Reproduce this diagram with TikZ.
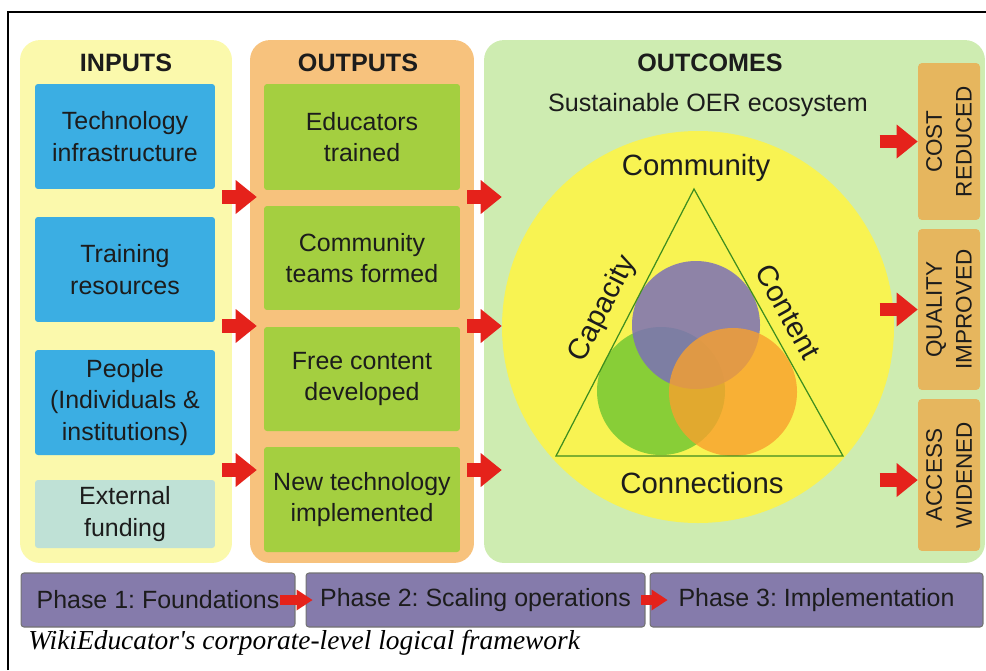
\documentclass[tikz,border=0pt]{standalone}
\usepackage{fontspec}
\setmainfont{Liberation Sans}
\newfontfamily\capfont{Liberation Serif}
\usetikzlibrary{arrows.meta}
\frenchspacing

\definecolor{inbg}{HTML}{FBF9AC}
\definecolor{outbg}{HTML}{F7C27D}
\definecolor{ocbg}{HTML}{CEECB1}
\definecolor{inblue}{HTML}{3BAEE3}
\definecolor{infund}{HTML}{BFE1D6}
\definecolor{outgreen}{HTML}{A4CF40}
\definecolor{restan}{HTML}{E6B65E}
\definecolor{ecoyellow}{HTML}{F8F352}
\definecolor{trigreen}{HTML}{3E8D1F}
\definecolor{cpurple}{HTML}{7C70B6}
\definecolor{cgreen}{HTML}{7CCB35}
\definecolor{corange}{HTML}{F8A02E}
\definecolor{phasebg}{HTML}{857BAB}
\definecolor{arrred}{HTML}{E5221B}
\definecolor{txt}{HTML}{1C1C1C}

\begin{document}
\begin{tikzpicture}[x=0.02cm, y=-0.02cm,
    panel/.style={rounded corners=0.4cm, minimum height=10.46cm},
    title/.style={text=txt, font=\fontsize{14.3}{17}\selectfont\bfseries},
    box/.style={rounded corners=0.06cm, align=center, text=txt, font=\fontsize{14.2}{18}\selectfont},
    res/.style={fill=restan, rounded corners=0.08cm, rotate=90, minimum height=1.24cm, align=center, text=txt, font=\fontsize{12.8}{17}\selectfont},
    phase/.style={fill=phasebg, draw=black!55, line width=0.6pt, rounded corners=0.06cm, minimum height=1.08cm, text=txt, font=\fontsize{14.2}{17}\selectfont},
    eco/.style={text=txt, inner sep=1pt, font=\fontsize{16.7}{20}\selectfont},
    bigarrow/.style={draw=arrred, line width=0.27cm, -{Triangle[length=0.42cm, width=0.68cm, line width=0pt]}},
    smallarrow/.style={draw=arrred, line width=0.2cm, -{Triangle[length=0.32cm, width=0.42cm, line width=0pt]}}]
    \useasboundingbox (0,0) rectangle (986,670);

    % Three big panels
    \node[panel, fill=inbg, minimum width=4.24cm] (inputs) at (126,301.5) {};
    \node[panel, fill=outbg, minimum width=4.48cm] (outputs) at (362,301.5) {};
    \node[panel, fill=ocbg, minimum width=10.02cm] (outcomes) at (734.5,301.5) {};
    \node[title] (intitle) at (126,63) {INPUTS};
    \node[title] (outtitle) at (358,63) {OUTPUTS};
    \node[title] (octitle) at (710,63) {OUTCOMES};

    % Inputs
    \node[box, fill=inblue, minimum width=3.6cm, minimum height=2.1cm] (tech) at (125,136.5) {Technology\\infrastructure};
    \node[box, fill=inblue, minimum width=3.6cm, minimum height=2.1cm] (train) at (125,269.5) {Training\\resources};
    \node[box, fill=inblue, minimum width=3.6cm, minimum height=2.1cm] (people) at (125,402.5) {People\\(Individuals \&\\institutions)};
    \node[box, fill=infund, minimum width=3.6cm, minimum height=1.36cm] (fund) at (125,514) {External\\funding};

    % Outputs
    \node[box, fill=outgreen, minimum width=3.92cm, minimum height=2.12cm] (educ) at (362,137) {Educators\\trained};
    \node[box, fill=outgreen, minimum width=3.92cm, minimum height=2.08cm] (teams) at (362,258) {Community\\teams formed};
    \node[box, fill=outgreen, minimum width=3.92cm, minimum height=2.08cm] (content) at (362,379) {Free content\\developed};
    \node[box, fill=outgreen, minimum width=3.92cm, minimum height=2.1cm] (newtech) at (362,499.5) {New technology\\implemented};

    % Outcomes: the ecosystem
    \node[text=txt, font=\fontsize{14.3}{17}\selectfont] (oer) at (708,105) {Sustainable OER ecosystem};
    \fill[ecoyellow] (698,327) circle (196);
    \fill[cgreen, fill opacity=0.9] (661,391) circle (64);
    \fill[cpurple, fill opacity=0.85] (696,325) circle (64);
    \fill[corange, fill opacity=0.8] (733,392) circle (64);
    \coordinate (apex) at (694,189);
    \coordinate (bl) at (556,456);
    \coordinate (br) at (843,456);
    \draw[trigreen, line width=0.7pt] (apex) -- (bl) -- (br) -- cycle;
    \node[eco] (community) at (696,168) {Community};
    \node[eco] (connections) at (702,483) {Connections};
    \node[eco, rotate=63] (capacity) at (603,309) {Capacity};
    \node[eco, rotate=-61] (contentlbl) at (788,312) {Content};

    % Results
    \node[res, minimum width=3.14cm] (cost) at (949,141.5) {COST\\REDUCED};
    \node[res, minimum width=3.22cm] (quality) at (949,309.5) {QUALITY\\IMPROVED};
    \node[res, minimum width=3.04cm] (access) at (949,475) {ACCESS\\WIDENED};

    % Red arrows between the panels
    \foreach \y [count=\i] in {197,326,470} {
        \coordinate (io\i) at (222,\y);
        \draw[bigarrow] (io\i) -- ([xshift=0.14cm]io\i -| outputs.west);
        \coordinate (oo\i) at (467,\y);
        \draw[bigarrow] (oo\i) -- ([xshift=0.36cm]oo\i -| outcomes.west);
    }
    \draw[bigarrow] ([xshift=-0.76cm]cost.north) -- (cost.north);
    \draw[bigarrow] ([xshift=-0.76cm]quality.north) -- (quality.north);
    \draw[bigarrow] ([xshift=-0.76cm,yshift=-0.1cm]access.north) -- ([yshift=-0.1cm]access.north);

    % Phases
    \node[phase, minimum width=5.48cm] (ph1) at (158,600) {Phase 1: Foundations};
    \node[phase, minimum width=6.78cm] (ph2) at (475.5,600) {Phase 2: Scaling operations};
    \node[phase, minimum width=6.66cm] (ph3) at (816.5,600) {Phase 3: Implementation};
    \coordinate (pa1) at (280,600);
    \coordinate (pa2) at (641,600);
    \draw[smallarrow] (pa1) -- ([xshift=0.14cm]pa1 -| ph2.west);
    \draw[smallarrow] (pa2) -- ([xshift=0.36cm]pa2 -| ph3.west);

    % Caption and frame
    \node[anchor=base west, inner sep=0pt, text=black, font=\capfont\itshape\fontsize{15.6}{18}\selectfont] (caption) at (28,649) {WikiEducator's corporate-level logical framework};
    \draw[line width=1.1pt] (8,670) -- (8,12) -- (986,12);
\end{tikzpicture}
\end{document}
